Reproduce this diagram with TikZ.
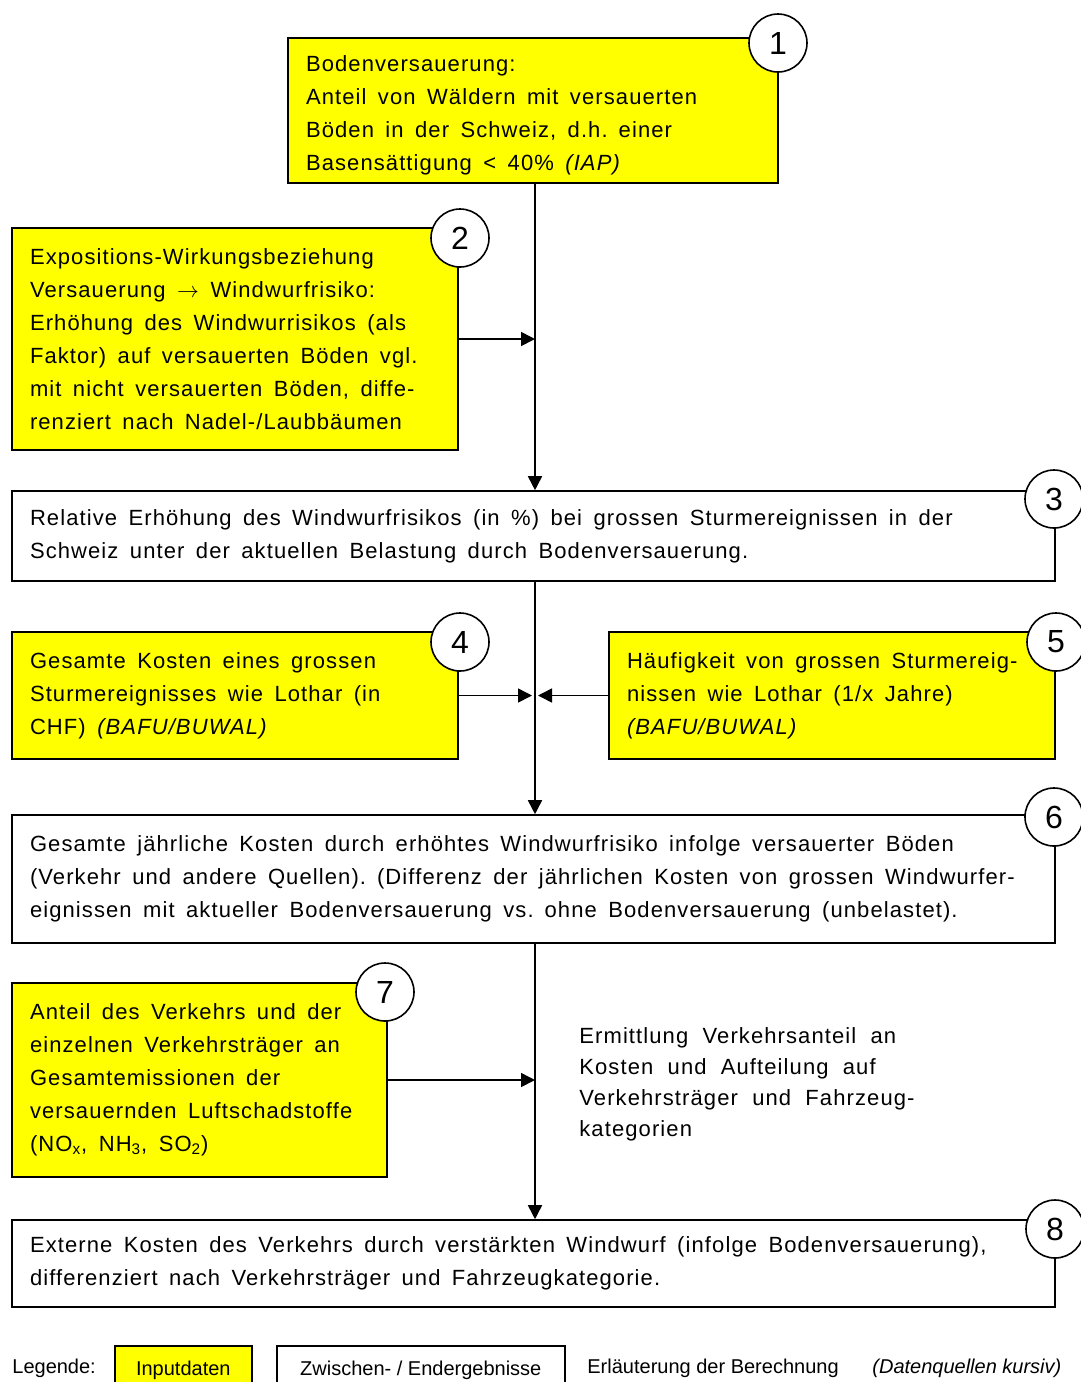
\documentclass[tikz,border=0pt]{standalone}
\usepackage{fontspec}
\setmainfont{Liberation Sans}[LetterSpace=5]
\newfontfamily\legfamily{Liberation Sans}
\usetikzlibrary{arrows.meta}
\definecolor{inyel}{RGB}{255,255,0}
\begin{document}
\begin{tikzpicture}[x=0.5pt,y=-0.5pt,
  font=\fontsize{11}{16.5}\selectfont,
  box/.style={draw, line width=0.8pt, rectangle, inner xsep=9pt, inner ysep=0pt, align=left, execute at begin node={\spaceskip=0.52em plus 0.1em\relax}},
  inbox/.style={box, fill=inyel},
  plain/.style={inner sep=0pt, align=left, execute at begin node={\spaceskip=0.52em plus 0.1em\relax}},
  num/.style={circle, draw, fill=white, line width=0.8pt, minimum size=29pt, inner sep=0pt, font=\legfamily\fontsize{16}{16}\selectfont},
  arr/.style={line width=0.8pt, -{Triangle[length=7pt,width=7pt]}},
  legbox/.style={draw, line width=0.8pt, anchor=north west, minimum height=25pt, inner sep=0pt, font=\legfamily\fontsize{10}{12}\selectfont},
  legtext/.style={anchor=west, inner sep=0pt, font=\legfamily\fontsize{10}{12}\selectfont},
]
\useasboundingbox (0,0) rectangle (1081,1382);
\coordinate (spine) at (535,0);

\node[inbox, minimum width=245pt, minimum height=72.5pt] (b1) at (533,110.5) {};
\node[plain, text width=227pt, yshift=-2.2pt] (t1) at (b1.center)
  {Bodenversauerung:\\Anteil von Wäldern mit versauerten\\Böden in der Schweiz, d.h. einer\\Basensättigung < 40\% \textit{(IAP)}};
\node[inbox, text width=205pt, minimum height=111pt] (b2) at (235,339)
  {Expositions-Wirkungsbeziehung\\Versauerung \ensuremath{\rightarrow} Windwurfrisiko:\\Erhöhung des Windwurrisikos (als\\Faktor) auf versauerten Böden vgl.\\mit nicht versauerten Böden, diffe-\\renziert nach Nadel-/Laubbäumen};
\node[box, text width=503.5pt, minimum height=45pt] (b3) at (533.5,536)
  {Relative Erhöhung des Windwurfrisikos (in \%) bei grossen Sturmereignissen in der\\Schweiz unter der aktuellen Belastung durch Bodenversauerung.};
\node[inbox, text width=205pt, minimum height=63.5pt] (b4) at (235,695.5)
  {Gesamte Kosten eines grossen\\Sturmereignisses wie Lothar (in\\CHF) \textit{(BAFU/BUWAL)}};
\node[inbox, text width=205pt, minimum height=63.5pt] (b5) at (832,695.5)
  {Häufigkeit von grossen Sturmereig-\\nissen wie Lothar (1/x Jahre)\\\textit{(BAFU/BUWAL)}};
\node[box, text width=503.5pt, minimum height=64pt] (b6) at (533.5,879)
  {Gesamte jährliche Kosten durch erhöhtes Windwurfrisiko infolge versauerter Böden\\(Verkehr und andere Quellen). (Differenz der jährlichen Kosten von grossen Windwurfer-\\eignissen mit aktueller Bodenversauerung vs. ohne Bodenversauerung (unbelastet).};
\node[inbox, text width=169.5pt, minimum height=97pt] (b7) at (199.5,1080)
  {Anteil des Verkehrs und der\\einzelnen Verkehrsträger an\\Gesamtemissionen der\\versauernden Luftschadstoffe\\(NO\textsubscript{x}, NH\textsubscript{3}, SO\textsubscript{2})};
\node[box, text width=503.5pt, minimum height=43.5pt] (b8) at (533.5,1263.5)
  {Externe Kosten des Verkehrs durch verstärkten Windwurf (infolge Bodenversauerung),\\differenziert nach Verkehrsträger und Fahrzeugkategorie.};

\node[plain, anchor=west, text width=200pt, font=\fontsize{11}{15.5}\selectfont,
  execute at begin node={\spaceskip=0.65em plus 0.1em\relax}] (expl) at (579,1084)
  {Ermittlung Verkehrsanteil an\\Kosten und Aufteilung auf\\Verkehrsträger und Fahrzeug-\\kategorien};

% connectors
\draw[arr] (b1.south -| spine) -- (b3.north -| spine);
\draw[arr] (b2.east) -- (b2.east -| spine);
\draw[arr] (b3.south -| spine) -- (b6.north -| spine);
\draw[arr, shorten >=1.5pt] (b4.east) -- (b4.east -| spine);
\draw[arr, shorten >=1.5pt] (b5.west) -- (b5.west -| spine);
\draw[arr] (b6.south -| spine) -- (b8.north -| spine);
\draw[arr] (b7.east) -- (b7.east -| spine);

% number circles
\node[num] (n1) at (778,43) {1};
\node[num] (n2) at (460,238) {2};
\node[num] (n3) at (1054,499) {3};
\node[num] (n4) at (460,642) {4};
\node[num] (n5) at (1056,642) {5};
\node[num] (n6) at (1054,817) {6};
\node[num] (n7) at (385,992) {7};
\node[num] (n8) at (1055,1229) {8};

% legend
\node[legtext] (leg) at (12,1368) {Legende:};
\node[legbox, fill=inyel, minimum width=68.5pt] (lg1) at (114,1345) {Inputdaten};
\node[legbox, minimum width=144pt] (lg2) at (276,1345) {Zwischen- / Endergebnisse};
\node[legtext] (lg3) at (587,1368) {Erläuterung der Berechnung};
\node[legtext] (lg4) at (872,1368) {\textit{(Datenquellen kursiv)}};
\end{tikzpicture}
\end{document}
